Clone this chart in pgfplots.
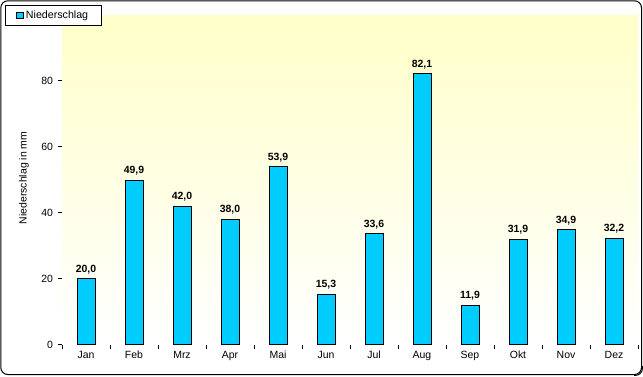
\documentclass[border=0pt]{standalone}
\usepackage{fontspec}
\setmainfont{Liberation Sans}
\usepackage{pgfplots}
\pgfplotsset{compat=1.18}
\definecolor{barc}{RGB}{0,204,255}
\definecolor{ylw}{RGB}{255,255,204}
\begin{document}
\begin{tikzpicture}[x=1bp,y=1bp]
\useasboundingbox (0,0) rectangle (643,376);
\fill[white] (0,0) rectangle (643,376);
\draw[line width=1bp, rounded corners=7bp] (0.8,1.5) rectangle (641.5,375.2);
\draw[line width=1bp, rounded corners=7bp] (634,0.6) -- (642.4,0.6) -- (642.4,10);
\begin{axis}[
  at={(62bp,31.5bp)}, anchor=south west, scale only axis,
  width=576bp, height=329.5bp,
  xmin=-0.5, xmax=11.5, ymin=0, ymax=100,
  axis x line*=bottom, axis y line*=left,
  axis line style={line width=1bp, black},
  every tick/.style={black, line width=1bp},
  tick align=outside, major tick length=4.5bp,
  ytick={0,20,40,60,80},
  xtick={-0.5,0.5,...,11.5}, xticklabels={},
  extra x ticks={0,1,...,11},
  extra x tick labels={Jan,Feb,Mrz,Apr,Mai,Jun,Jul,Aug,Sep,Okt,Nov,Dez},
  extra x tick style={major tick length=0pt, tick label style={yshift=-3bp}},
  tick label style={font=\fontsize{10.5}{12}\selectfont},
  /pgf/number format/assume math mode=true,
  yticklabel style={xshift=-1bp},
  legend style={at={(-0.099,1.0303)}, anchor=north west, draw=black, line width=1bp,
    font=\fontsize{10.7}{12}\selectfont, inner xsep=11bp, inner ysep=3.2bp, fill=white,
    text depth=1bp},
  legend image code/.code={\draw[fill=barc, draw=black, line width=1bp] (0bp,-3.2bp) rectangle (6.5bp,3.2bp);},
  clip=false,
]
\fill[top color=ylw, bottom color=white, middle color=ylw!50] (rel axis cs:0,0) rectangle (rel axis cs:1,0.93);
\fill[ylw] (rel axis cs:0,0.93) rectangle (rel axis cs:1,1);
\addplot[ybar, bar width=18bp, fill=barc, draw=black, line width=1bp,
  nodes near coords={\pgfmathprintnumber[use comma,fixed,fixed zerofill,precision=1,assume math mode=true]{\pgfplotspointmeta}},
  nodes near coords style={font=\bfseries\fontsize{10.5}{12}\selectfont, black, yshift=1bp}]
coordinates {(0,20.0) (1,49.9) (2,42.0) (3,38.0) (4,53.9) (5,15.3) (6,33.6) (7,82.1) (8,11.9) (9,31.9) (10,34.9) (11,32.2)};
\addlegendentry{Niederschlag}
\end{axis}
\node[rotate=90, font=\fontsize{10.5}{12}\selectfont] at (24,198) {Niederschlag in mm};
\end{tikzpicture}
\end{document}
